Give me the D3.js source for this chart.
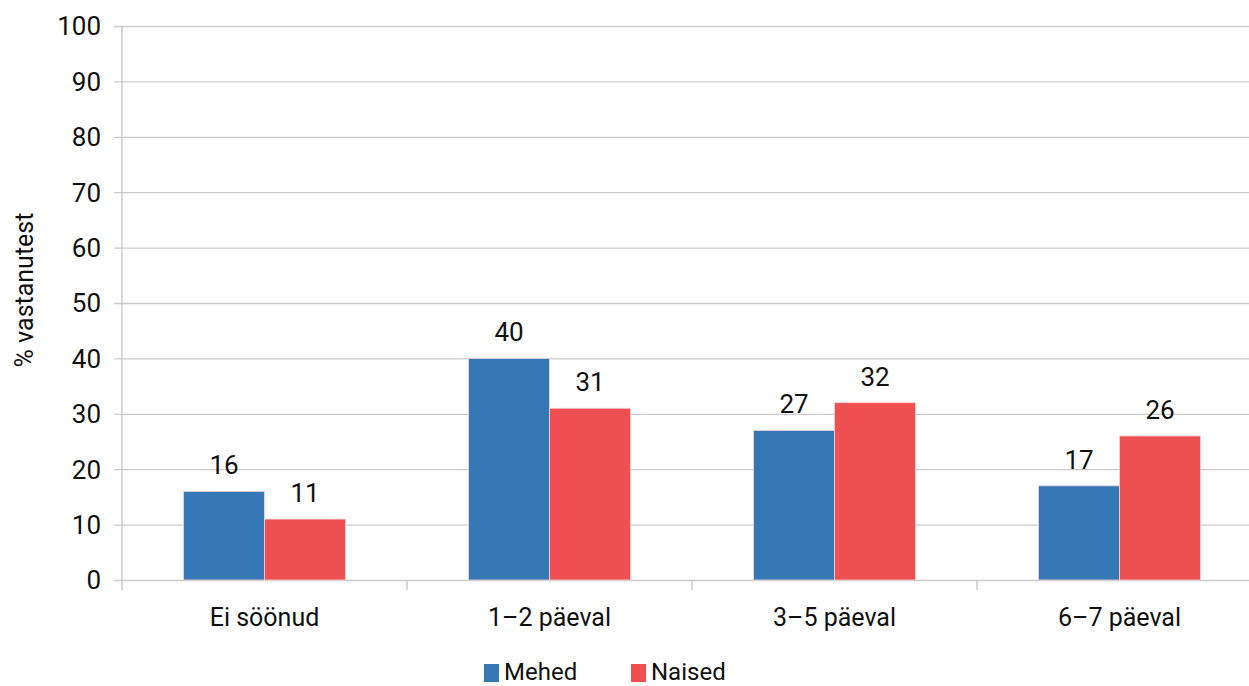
<!DOCTYPE html>
<html>
<head>
<meta charset="utf-8">
<script src="https://cdn.jsdelivr.net/npm/d3@7"></script>
<style>
  html, body { margin: 0; padding: 0; background: #fff; }
  svg { display: block; }
  text { font-family: Roboto, "DejaVu Sans", sans-serif; fill: #111; }
</style>
</head>
<body>
<svg id="chart" width="1249" height="686"></svg>
<script>
// Share of respondents by number of days eaten
const categories = ["Ei söönud", "1–2 päeval", "3–5 päeval", "6–7 päeval"];
const seriesNames = ["Mehed", "Naised"];
const mehed = [16, 40, 27, 17];
const naised = [11, 31, 32, 26];
const yTicks = [0, 10, 20, 30, 40, 50, 60, 70, 80, 90, 100];
const colors = ["#3677b8", "#ee4f51"];

const svg = d3.select("#chart");
const plotLeft = 122, plotTop = 26, plotBottom = 580, plotRight = 1262;

const x = d3.scaleBand().domain(categories).range([plotLeft, plotRight]).paddingInner(0).paddingOuter(0);
const inner = d3.scaleBand().domain(seriesNames).range([61.5, x.bandwidth() - 61.5]);
const y = d3.scaleLinear().domain([0, 100]).range([plotBottom, plotTop]);

// Horizontal gridlines with short ticks left of the axis
const yAxis = d3.axisLeft(y).tickValues(yTicks).tickSize(-(plotRight - plotLeft + 8)).tickPadding(10).tickFormat(d3.format("d"));
const gy = svg.append("g").attr("transform", `translate(${plotLeft - 8},0)`).call(yAxis);
gy.select(".domain").remove();
gy.selectAll(".tick line").attr("stroke", "#cbcbcb").attr("stroke-width", 1.3);
gy.selectAll(".tick text").attr("font-size", 26).attr("x", -13).attr("dy", "0.34em");

// Vertical axis line
svg.append("line").attr("x1", plotLeft).attr("x2", plotLeft).attr("y1", plotTop).attr("y2", plotBottom + 10)
  .attr("stroke", "#c4c4c4").attr("stroke-width", 1.3);

// Category separator ticks along the bottom
const gx = svg.append("g").attr("transform", `translate(0,${plotBottom})`);
categories.slice(1).forEach(c => {
  gx.append("line").attr("x1", x(c)).attr("x2", x(c)).attr("y1", 0).attr("y2", 10)
    .attr("stroke", "#c4c4c4").attr("stroke-width", 1.3);
});
gx.selectAll("text.cat").data(categories).join("text").attr("class", "cat")
  .attr("x", d => x(d) + x.bandwidth() / 2).attr("y", 46)
  .attr("text-anchor", "middle").attr("font-size", 25).text(d => d);

// Bars and value labels
const data = [mehed, naised];
seriesNames.forEach((s, si) => {
  const g = svg.append("g");
  g.selectAll("rect").data(categories).join("rect")
    .attr("x", c => x(c) + inner(s))
    .attr("y", (c, i) => y(data[si][i]))
    .attr("width", inner.bandwidth())
    .attr("height", (c, i) => y(0) - y(data[si][i]))
    .attr("fill", colors[si])
    .attr("stroke", "#f4d6d6").attr("stroke-width", 0.8);
  g.selectAll("text").data(categories).join("text")
    .attr("x", c => x(c) + inner(s) + inner.bandwidth() / 2)
    .attr("y", (c, i) => y(data[si][i]) - 17)
    .attr("text-anchor", "middle").attr("font-size", 26)
    .text((c, i) => data[si][i]);
});

// Y axis title
svg.append("text").attr("transform", "translate(33,290) rotate(-90)")
  .attr("text-anchor", "middle").attr("font-size", 25).text("% vastanutest");

// Legend
const legendX = [484, 631];
seriesNames.forEach((s, i) => {
  svg.append("rect").attr("x", legendX[i]).attr("y", 664).attr("width", 15).attr("height", 18).attr("fill", colors[i]);
  svg.append("text").attr("x", legendX[i] + 20).attr("y", 680).attr("font-size", 24).text(s);
});
</script>
</body>
</html>
